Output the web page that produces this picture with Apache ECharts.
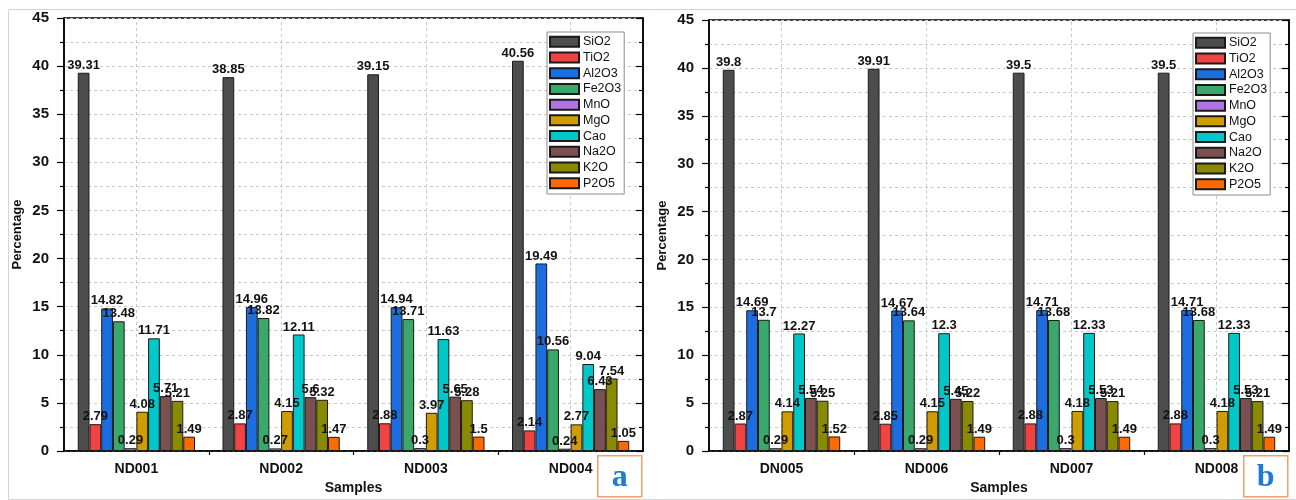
<!DOCTYPE html>
<html>
<head>
<meta charset="utf-8">
<script src="https://cdn.jsdelivr.net/npm/echarts@6/dist/echarts.min.js"></script>
<style>
  html, body { margin: 0; padding: 0; background: #fff; }
  #chart { width: 1296px; height: 500px; }
</style>
</head>
<body>
<div id="chart"></div>
<script>
// oxides (legend / series order)
const oxides = ['SiO2', 'TiO2', 'Al2O3', 'Fe2O3', 'MnO', 'MgO', 'Cao', 'Na2O', 'K2O', 'P2O5']
const oxideColors = ['#4d4d4d', '#f04444', '#1c6ee0', '#3aa86a', '#b274e0', '#d09c00', '#00c8c8', '#7a5050', '#8a8a00', '#ff6a00']

// panel a
const samplesA = ['ND001', 'ND002', 'ND003', 'ND004']
const nd001 = [39.31, 2.79, 14.82, 13.48, 0.29, 4.08, 11.71, 5.71, 5.21, 1.49]
const nd002 = [38.85, 2.87, 14.96, 13.82, 0.27, 4.15, 12.11, 5.6, 5.32, 1.47]
const nd003 = [39.15, 2.88, 14.94, 13.71, 0.3, 3.97, 11.63, 5.65, 5.28, 1.5]
const nd004 = [40.56, 2.14, 19.49, 10.56, 0.24, 2.77, 9.04, 6.43, 7.54, 1.05]

// panel b
const samplesB = ['DN005', 'ND006', 'ND007', 'ND008']
const dn005 = [39.8, 2.87, 14.69, 13.7, 0.29, 4.14, 12.27, 5.54, 5.25, 1.52]
const nd006 = [39.91, 2.85, 14.67, 13.64, 0.29, 4.15, 12.3, 5.45, 5.22, 1.49]
const nd007 = [39.5, 2.88, 14.71, 13.68, 0.3, 4.18, 12.33, 5.53, 5.21, 1.49]
const nd008 = [39.5, 2.88, 14.71, 13.68, 0.3, 4.18, 12.33, 5.53, 5.21, 1.49]

const yMin = 0
const yMax = 45
const yStep = 5

const rowsA = [nd001, nd002, nd003, nd004]
const rowsB = [dn005, nd006, nd007, nd008]

const FONT = 'Liberation Sans, Arial, sans-serif'
const dashed = { color: '#c8c8c8', type: [3, 3], width: 1 }
const gridLine = { show: true, lineStyle: dashed }

function panelAxes(idx, cats) {
  const xAxes = [
    {
      gridIndex: idx,
      type: 'category',
      data: cats,
      boundaryGap: true,
      axisLine: { lineStyle: { color: '#000', width: 1.5 } },
      axisTick: { alignWithLabel: true, length: 7, lineStyle: { color: '#000', width: 1.2 } },
      axisLabel: { color: '#111', fontFamily: FONT, fontWeight: 'bold', fontSize: 14, margin: 11 },
      splitLine: { show: false },
      name: 'Samples',
      nameLocation: 'middle',
      nameGap: 29,
      nameTextStyle: { color: '#111', fontFamily: FONT, fontWeight: 'bold', fontSize: 14 },
    },
    {
      // helper axis: short inward ticks at sample boundaries
      gridIndex: idx,
      type: 'category',
      data: ['', '', '', '', '', '', '', '', ''],
      boundaryGap: false,
      axisLine: { show: false },
      axisLabel: { show: false },
      axisTick: {
        show: true, inside: true, length: 4,
        interval: (i) => i % 2 === 0 && i > 0 && i < 8,
        lineStyle: { color: '#000', width: 1.2 },
      },
      splitLine: { show: false },
    },
  ]
  const yAxes = [
    {
      gridIndex: idx,
      type: 'value',
      min: yMin, max: yMax, interval: yStep,
      axisLine: { show: true, lineStyle: { color: '#000', width: 1.5 } },
      axisTick: { show: true, length: 7, lineStyle: { color: '#000', width: 1.2 } },
      minorTick: { show: true, splitNumber: 2, length: 4, lineStyle: { color: '#000', width: 1.2 } },
      splitLine: gridLine,
      minorSplitLine: gridLine,
      axisLabel: { color: '#111', fontFamily: FONT, fontWeight: 'bold', fontSize: 15, margin: 15 },
      name: 'Percentage',
      nameLocation: 'middle',
      nameGap: 40,
      nameTextStyle: { color: '#111', fontFamily: FONT, fontWeight: 'bold', fontSize: 13 },
    },
    {
      gridIndex: idx,
      type: 'value',
      position: 'right',
      min: yMin, max: yMax, interval: yStep,
      axisLine: { show: true, lineStyle: { color: '#000', width: 1.5 } },
      axisTick: { show: true, inside: true, length: 7, lineStyle: { color: '#000', width: 1.2 } },
      minorTick: { show: true, splitNumber: 2, length: 4, lineStyle: { color: '#000', width: 1.2 } },
      splitLine: { show: false },
      axisLabel: { show: false },
    },
  ]
  return { xAxes, yAxes }
}

function panelSeries(idx, rows, cats) {
  const bars = oxides.map((name, k) => ({
    name,
    type: 'bar',
    xAxisIndex: idx * 2,
    yAxisIndex: idx * 2,
    barGap: '0%',
    barCategoryGap: '19%',
    barMinHeight: 2,
    itemStyle: { color: oxideColors[k], borderColor: '#1a1a1a', borderWidth: 1 },
    label: {
      show: true,
      position: 'top',
      distance: 1,
      color: '#111',
      fontFamily: FONT,
      fontWeight: 'bold',
      fontSize: 13,
    },
    data: rows.map((r) => r[k]),
  }))
  // dashed guides through the middle of each sample, behind the bars
  const guides = {
    name: 'guides' + idx,
    type: 'line',
    xAxisIndex: idx * 2,
    yAxisIndex: idx * 2,
    data: [],
    silent: true,
    z: 1,
    markLine: {
      silent: true,
      z: 1,
      symbol: 'none',
      label: { show: false },
      lineStyle: dashed,
      data: cats.map((c) => ({ xAxis: c })),
    },
  }
  return [guides, ...bars]
}

function panelLegend(left, top) {
  return {
    data: oxides,
    orient: 'vertical',
    left, top,
    itemWidth: 29,
    itemHeight: 10,
    itemGap: 2,
    padding: [3, 3, 4, 2],
    backgroundColor: '#fff',
    borderColor: '#8c8c8c',
    borderWidth: 1,
    icon: 'rect',
    selectedMode: false,
    textStyle: { color: '#111', fontFamily: FONT, fontSize: 12.5, lineHeight: 13.7, padding: [0, 0, 0, -1] },
  }
}

function cornerTag(x, letter) {
  return {
    type: 'group',
    left: x, top: 455,
    children: [
      { type: 'rect', shape: { x: 0, y: 0, width: 44, height: 41 }, style: { fill: '#fff', stroke: '#f0a070', lineWidth: 1.5 } },
      {
        type: 'text', x: 22, y: 22,
        style: {
          text: letter, fill: '#1f7bd2', align: 'center', verticalAlign: 'middle',
          font: 'bold 32px "Liberation Serif", "DejaVu Serif", serif',
        },
      },
    ],
  }
}

const a = panelAxes(0, samplesA)
const b = panelAxes(1, samplesB)

const chart = echarts.init(document.getElementById('chart'))
chart.setOption({
  animation: false,
  backgroundColor: '#fff',
  grid: [
    { left: 64, right: 653, top: 18, bottom: 49, show: true, borderColor: '#000', borderWidth: 1.5 },
    { left: 709, right: 7, top: 20, bottom: 49, show: true, borderColor: '#000', borderWidth: 1.5 },
  ],
  legend: [panelLegend(547, 32), panelLegend(1193, 33)],
  xAxis: [...a.xAxes, ...b.xAxes],
  yAxis: [...a.yAxes, ...b.yAxes],
  series: [...panelSeries(0, rowsA, samplesA), ...panelSeries(1, rowsB, samplesB)],
  graphic: [
    { type: 'rect', left: 6, top: 7, shape: { width: 1289, height: 490 }, style: { fill: 'none', stroke: '#d4d4d4', lineWidth: 1 }, z: -1 },
    cornerTag(597, 'a'),
    cornerTag(1243, 'b'),
  ],
})
</script>
</body>
</html>
